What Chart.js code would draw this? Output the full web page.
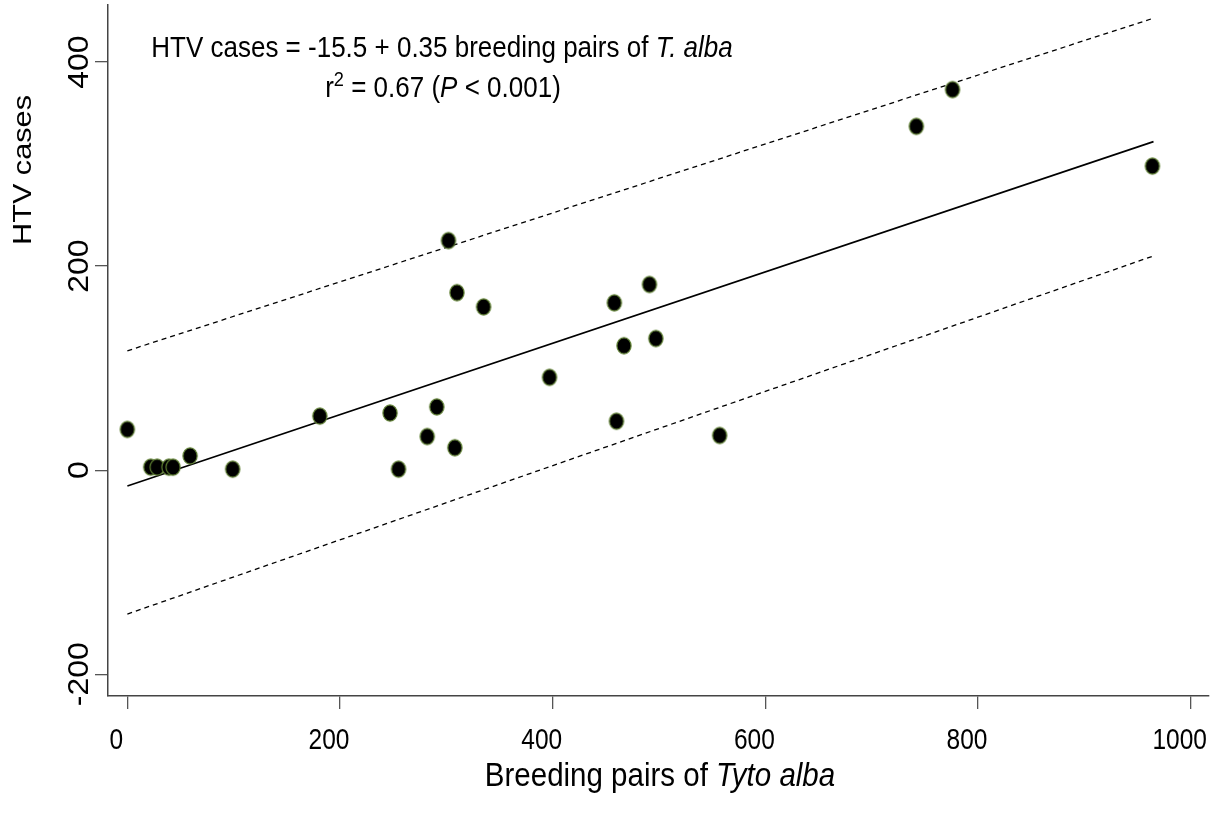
<!DOCTYPE html>
<html>
<head>
<meta charset="utf-8">
<style>
  html, body { margin: 0; padding: 0; background: #fff; }
  #wrap { width: 1216px; height: 832px; }
</style>
<script src="https://cdn.jsdelivr.net/npm/chart.js@4/dist/chart.umd.min.js"></script>
</head>
<body>
<div id="wrap"><canvas id="chart" width="1216" height="832"></canvas></div>
<script>
// Breeding pairs of Tyto alba vs HTV cases
const pairs = [0, 22, 28, 39, 43, 59, 99, 181, 247, 255, 282, 291, 302, 308, 310, 335, 397, 458, 460, 467, 491, 497, 557, 742, 776, 964];
const htvCases = [40, 3, 3, 3, 3, 14, 1, 53, 56, 1, 33, 62, 225, 22, 174, 160, 91, 164, 48, 122, 182, 129, 34, 337, 373, 298];

// fitted line and the two dashed bands, end points
const fitX = [0, 965];
const fitY = [-15.5, 322];
const upperY = [117, 443];
const lowerY = [-141, 210];

const xTicks = [0, 200, 400, 600, 800, 1000];
const yTicks = [-200, 0, 200, 400];

const FONT = "'Liberation Sans', Arial, Helvetica, sans-serif";

// point marker: black ellipse with a thin olive rim (figure is a bit taller than wide)
function makeDot() {
    const c = document.createElement('canvas');
    c.width = 18; c.height = 20;
    const g = c.getContext('2d');
    g.beginPath();
    g.ellipse(9, 10, 7.1, 8.1, 0, 0, Math.PI * 2);
    g.fillStyle = '#000';
    g.fill();
    g.lineWidth = 1.2;
    g.strokeStyle = '#5f8032';
    g.stroke();
    return c;
}

function toXY(xs, ys) {
    return xs.map((x, i) => ({ x: x, y: ys[i] }));
}

// text helper: parts = [{t, it, sup}], drawn on a baseline, stretched vertically by sy
function richWidth(ctx, parts, size) {
    let w = 0;
    parts.forEach(p => {
        const s = p.sup ? size * 0.7 : size;
        ctx.font = (p.it ? 'italic ' : '') + s + 'px ' + FONT;
        w += ctx.measureText(p.t).width;
    });
    return w;
}

function drawRich(ctx, parts, x, y, size, sy, align) {
    const w = richWidth(ctx, parts, size);
    let x0 = align === 'center' ? x - w / 2 : (align === 'right' ? x - w : x);
    ctx.save();
    ctx.translate(x0, y);
    ctx.scale(1, sy);
    ctx.fillStyle = '#000';
    ctx.textBaseline = 'alphabetic';
    ctx.textAlign = 'left';
    let cx = 0;
    parts.forEach(p => {
        const s = p.sup ? size * 0.7 : size;
        ctx.font = (p.it ? 'italic ' : '') + s + 'px ' + FONT;
        ctx.fillText(p.t, cx, p.sup ? -size * 0.36 : 0);
        cx += ctx.measureText(p.t).width;
    });
    ctx.restore();
}

// rotated text, reading bottom to top, centred on cy, baseline at bx
function drawVertical(ctx, text, bx, cy, size, stretch) {
    ctx.save();
    ctx.translate(bx, cy);
    ctx.rotate(-Math.PI / 2);
    ctx.scale(stretch, 1);
    ctx.font = size + 'px ' + FONT;
    ctx.fillStyle = '#000';
    ctx.textAlign = 'center';
    ctx.textBaseline = 'alphabetic';
    ctx.fillText(text, 0, 0);
    ctx.restore();
}

const textPlugin = {
    id: 'textPlugin',
    afterDraw(chart) {
        const ctx = chart.ctx;
        const xs = chart.scales.x;
        const ys = chart.scales.y;

        // the x labels in the figure sit a little left of their ticks
        xTicks.forEach(v => {
            drawRich(ctx, [{ t: String(v) }], xs.getPixelForValue(v) - 11, 749, 24.5, 1.2, 'center');
        });
        yTicks.forEach(v => {
            drawVertical(ctx, String(v), 87.5, ys.getPixelForValue(v), 29, 1.1);
        });

        // axis titles
        drawRich(ctx, [{ t: 'Breeding pairs of ' }, { t: 'Tyto alba', it: true }], 660, 786, 29.5, 1.1, 'center');
        drawVertical(ctx, 'HTV cases', 31, 170, 26, 1.18);

        // regression equation
        drawRich(ctx, [
            { t: 'HTV cases = -15.5 + 0.35 breeding pairs of ' },
            { t: 'T. alba', it: true }
        ], 442, 57.3, 26, 1.12, 'center');
        drawRich(ctx, [
            { t: 'r' }, { t: '2', sup: true }, { t: ' = 0.67 (' },
            { t: 'P', it: true }, { t: ' < 0.001)' }
        ], 443, 96.5, 26, 1.12, 'center');
    }
};

const dot = makeDot();

new Chart(document.getElementById('chart'), {
    type: 'scatter',
    data: {
        datasets: [
            {
                label: 'HTV cases',
                data: toXY(pairs, htvCases),
                pointStyle: dot,
                pointRadius: 9,
                order: 0
            },
            {
                type: 'line',
                label: 'fit',
                data: toXY(fitX, fitY),
                borderColor: '#000',
                borderWidth: 1.6,
                pointRadius: 0,
                fill: false,
                order: 1
            },
            {
                type: 'line',
                label: 'upper',
                data: toXY(fitX, upperY),
                borderColor: '#000',
                borderWidth: 1.3,
                borderDash: [5, 4],
                pointRadius: 0,
                fill: false,
                order: 1
            },
            {
                type: 'line',
                label: 'lower',
                data: toXY(fitX, lowerY),
                borderColor: '#000',
                borderWidth: 1.3,
                borderDash: [5, 4],
                pointRadius: 0,
                fill: false,
                order: 1
            }
        ]
    },
    options: {
        responsive: false,
        animation: false,
        devicePixelRatio: 1,
        layout: { autoPadding: false, padding: { top: 5, right: 7, left: 0, bottom: 0 } },
        plugins: {
            legend: { display: false },
            tooltip: { enabled: false }
        },
        scales: {
            x: {
                type: 'linear',
                min: -18.2,
                max: 1017.2,
                afterBuildTicks: s => { s.ticks = xTicks.map(v => ({ value: v })); },
                afterFit: s => { s.height = 136; },
                ticks: { display: false },
                grid: {
                    display: true,
                    drawOnChartArea: false,
                    drawTicks: true,
                    tickLength: 13,
                    color: '#555',
                    lineWidth: 1.3
                },
                border: { display: true, color: '#444', width: 1.5 }
            },
            y: {
                type: 'linear',
                min: -221.3,
                max: 455.9,
                afterBuildTicks: s => { s.ticks = yTicks.map(v => ({ value: v })); },
                afterFit: s => { s.width = 108; },
                ticks: { display: false },
                grid: {
                    display: true,
                    drawOnChartArea: false,
                    drawTicks: true,
                    tickLength: 13,
                    color: '#555',
                    lineWidth: 1.3
                },
                border: { display: true, color: '#444', width: 1.5 }
            }
        }
    },
    plugins: [textPlugin]
});
</script>
</body>
</html>
